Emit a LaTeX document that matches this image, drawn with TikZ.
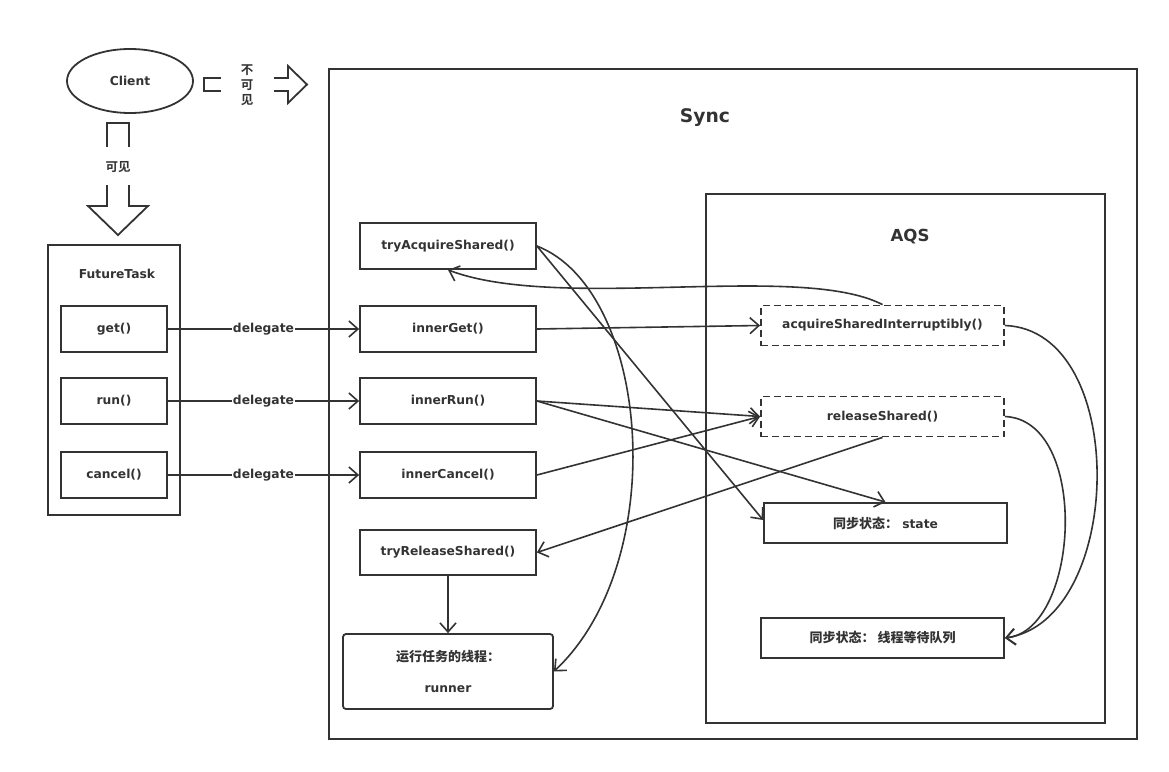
\documentclass[tikz,border=0pt]{standalone}
\usepackage{fontspec}
\setmainfont{DejaVu Sans}
\newfontfamily\cjk{Noto Sans CJK SC Bold}
\newcommand{\zh}[1]{{\cjk\fontsize{13}{15}\selectfont #1}}
\usetikzlibrary{arrows.meta,shapes.geometric,calc}
\definecolor{lc}{RGB}{51,51,51}
\tikzset{
  base/.style={draw=lc, line width=1.8pt, inner sep=0pt, text=lc, font=\bfseries\fontsize{12.3}{14}\selectfont},
  box/.style={base, minimum width=176pt, minimum height=46pt},
  sbox/.style={base, minimum width=106pt, minimum height=46pt},
  abox/.style={base, minimum width=243pt, minimum height=40pt},
  dbox/.style={abox, dash pattern=on 7pt off 4pt},
  lbl/.style={text=lc, inner sep=1pt, font=\bfseries\fontsize{12.3}{14}\selectfont},
  arr/.style={draw=lc, line width=1.6pt, -{Straight Barb[length=9pt,width=16pt,line width=1.6pt]}},
  ln/.style={draw=lc, line width=1.8pt}
}
\begin{document}
\begin{tikzpicture}[x=1pt,y=-1pt]
\useasboundingbox (0,0) rectangle (1169,771);
% client
\node[base, ellipse, minimum width=126pt, minimum height=64pt] (client) at (130,81) {Client};
% invisible arrow
\draw[ln] (221,78) -- (204,78) -- (204,91) -- (221,91);
\node[lbl, align=center, font=\cjk\fontsize{12.5}{15}\selectfont] (inv) at (247,85) {不\\可\\见};
\draw[ln] (274,78) -- (288,78) -- (288,66) -- (307,84.5) -- (288,103) -- (288,91) -- (274,91);
% visible arrow
\draw[ln] (107,147) -- (107,123) -- (129,123) -- (129,147);
\node[lbl, font=\cjk\fontsize{12.5}{14}\selectfont] (vis) at (118,167) {可见};
\draw[ln] (107,185) -- (107,206) -- (88,206) -- (118,235) -- (148,206) -- (129,206) -- (129,185);
% FutureTask
\node[base, minimum width=132pt, minimum height=270pt] (ft) at (114,380) {};
\node[lbl] (fttitle) at (117,274) {FutureTask};
\node[sbox] (get) at (114,329) {get()};
\node[sbox] (run) at (114,401) {run()};
\node[sbox] (cancel) at (114,475) {cancel()};
% Sync
\node[base, minimum width=808pt, minimum height=670pt] (sync) at (733,404) {};
\node[lbl, font=\bfseries\fontsize{18.7}{22}\selectfont] (synct) at (705,118) {Sync};
\node[base, minimum width=399pt, minimum height=529pt] (aqs) at (905.5,458.5) {};
\node[lbl, font=\bfseries\fontsize{16.6}{20}\selectfont] (aqst) at (910,237) {AQS};
\node[box] (tas) at (448,246) {tryAcquireShared()};
\node[box] (ig) at (448,329) {innerGet()};
\node[box] (ir) at (448,401) {innerRun()};
\node[box] (ic) at (448,475) {innerCancel()};
\node[box, minimum height=45pt] (trs) at (448,552.5) {tryReleaseShared()};
\node[base, rounded corners=3pt, minimum width=210pt, minimum height=75pt, align=center, font=\bfseries\fontsize{12.3}{31}\selectfont] (runner) at (448,671.5) {\zh{运行任务的线程：}\\runner};
\node[dbox] (asi) at (882.5,325.5) {acquireSharedInterruptibly()};
\node[dbox] (rs) at (882.5,416.5) {releaseShared()};
\node[abox] (st) at (885.5,523) {\zh{同步状态：} state};
\node[abox] (q) at (882.5,638) {\zh{同步状态： 线程等待队列}};
% delegates
\draw[arr] (get) -- node[lbl, fill=white] (d1) {delegate} (ig);
\draw[arr] (run) -- node[lbl, fill=white] (d2) {delegate} (ir);
\draw[arr] (cancel) -- node[lbl, fill=white] (d3) {delegate} (ic);
% connectors
\draw[arr] (asi.north) .. controls (800,262) and (560,312) .. (tas.south);
\draw[arr] (ig.east) -- (asi.west);
\draw[arr] (ir.east) -- (rs.west);
\draw[arr] (ir.east) -- (st.north);
\draw[arr] (ic.east) -- (rs.west);
\draw[arr] (rs.south) -- (trs.east);
\draw[arr] (tas.east) -- ($(st.west)+(0,-3)$);
\draw[arr] (tas.east) .. controls (650,290) and (672,560) .. (runner.east);
\draw[arr] (trs.south) -- (runner.north);
\draw[arr] (asi.east) .. controls (1130,330) and (1125,620) .. (q.east);
\draw[arr] (rs.east) .. controls (1090,420) and (1080,630) .. (q.east);
\end{tikzpicture}
\end{document}
